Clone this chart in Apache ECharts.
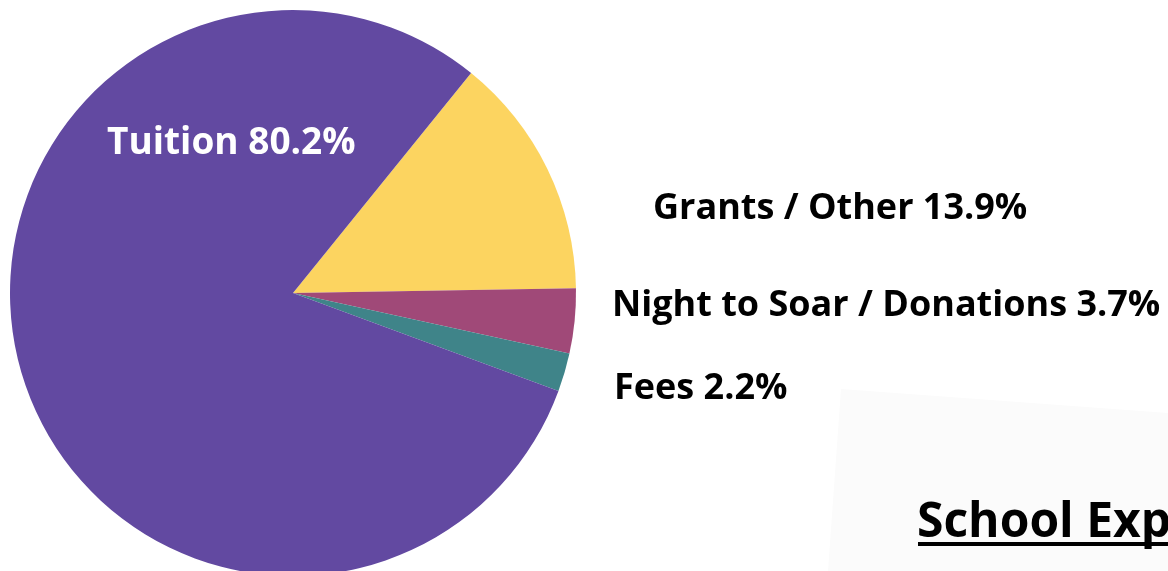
<!DOCTYPE html>
<html>
<head>
<meta charset="utf-8">
<script src="https://cdn.jsdelivr.net/npm/echarts@6/dist/echarts.min.js"></script>
<style>
html,body{margin:0;padding:0;background:#fff;}
#c{width:1168px;height:571px;}
</style>
</head>
<body>
<div id="c"></div>
<script>
const categories = ['Grants / Other', 'Night to Soar / Donations', 'Fees', 'Tuition'];
const values = [13.9, 3.7, 2.2, 80.2];
const colors = ['#FCD460', '#A04978', '#3F8489', '#6249A1'];
const titleText = 'School Exp';

const labelPos = [
  {x: 653, y: 209},
  {x: 612, y: 306},
  {x: 614, y: 389},
  {x: 107, y: 143}
];

const chart = echarts.init(document.getElementById('c'), null, {renderer: 'canvas'});
chart.setOption({
  animation: false,
  backgroundColor: '#ffffff',
  graphic: [
    {
      type: 'polygon',
      z: 0,
      shape: {points: [[841, 389], [1168, 413], [1168, 571], [828, 571]]},
      style: {fill: '#FBFBFB'}
    },
    {
      type: 'text',
      z: 10,
      x: 917,
      y: 523,
      style: {
        text: titleText,
        fontFamily: 'Open Sans',
        fontWeight: 700,
        fontSize: 48,
        fill: '#000',
        verticalAlign: 'middle',
        align: 'left'
      }
    },
    {
      type: 'rect',
      z: 10,
      shape: {x: 918, y: 542, width: 260, height: 4},
      style: {fill: '#000'}
    }
  ],
  series: [{
    type: 'pie',
    center: [293, 293],
    radius: 283,
    startAngle: 51,
    clockwise: true,
    avoidLabelOverlap: false,
    label: {
      show: true,
      position: 'outside',
      overflow: 'none',
      formatter: p => p.name + ' ' + p.value.toFixed(1) + '%',
      fontFamily: 'Open Sans',
      fontWeight: 700,
      fontSize: 36,
      color: '#000'
    },
    labelLine: {show: false},
    labelLayout: function (params) {
      const p = labelPos[params.dataIndex];
      return {x: p.x, y: p.y, align: 'left', verticalAlign: 'middle'};
    },
    emphasis: {disabled: true},
    data: categories.map((n, i) => ({
      name: n,
      value: values[i],
      itemStyle: {color: colors[i]},
      label: i === 3 ? {position: 'inside', color: '#ffffff', fontSize: 37} : {}
    }))
  }]
});
</script>
</body>
</html>
